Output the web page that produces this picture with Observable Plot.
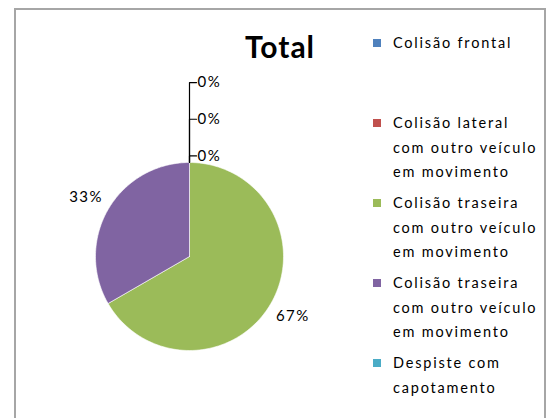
<!DOCTYPE html>
<html>
<head>
<meta charset="utf-8">
<script src="https://cdn.jsdelivr.net/npm/d3@7"></script>
<script src="https://cdn.jsdelivr.net/npm/@observablehq/plot@0.6"></script>
<style>
  html, body { margin: 0; padding: 0; background: #fff; overflow: hidden; }
  #wrap { position: relative; width: 548px; height: 418px; overflow: hidden; font-family: Lato, "Open Sans", sans-serif; color: #000; }
  #frame { position: absolute; left: 14px; top: 8px; width: 528px; height: 440px; border: 2px solid #a6a6a6; }
  #chart { position: absolute; left: 0; top: 0; }
  #title { position: absolute; left: 200px; width: 160px; top: 28px; text-align: center; font-size: 30px; font-weight: 700; letter-spacing: 1px; }
  .item { position: absolute; left: 373px; width: 175px; }
  .sw { position: absolute; left: 0; top: 8px; width: 8px; height: 8px; }
  .lab { position: absolute; left: 20px; width: 148px; font-size: 14.5px; line-height: 24.5px; letter-spacing: 1.8px; }
</style>
</head>
<body>
<div id="wrap">
  <div id="frame"></div>
  <div id="chart"></div>
  <div id="title"></div>
  <div id="legend"></div>
</div>
<script>
const title = "Total";
const categories = [
  "Colisão frontal",
  "Colisão lateral com outro veículo em movimento",
  "Colisão traseira com outro veículo em movimento",
  "Colisão traseira com outro veículo em movimento",
  "Despiste com capotamento"
];
const values = [0, 0, 2, 1, 0];
const colors = ["#4F81BD", "#C0504D", "#9BBB59", "#8064A2", "#4BACC6"];

const rows = categories.map((c, i) => ({id: i, name: c, value: values[i]}));
const total = d3.sum(values);
const arcs = d3.pie().sort(null).value(d => d.value)(rows);

// slice polygons (y up, angle clockwise from 12 o'clock)
const polys = [];
arcs.forEach(a => {
  if (a.data.value <= 0) return;
  const N = 120;
  polys.push({id: a.data.id, x: 0, y: 0});
  for (let k = 0; k <= N; k++) {
    const t = a.startAngle + (a.endAngle - a.startAngle) * k / N;
    polys.push({id: a.data.id, x: Math.sin(t), y: Math.cos(t)});
  }
  polys.push({id: a.data.id, x: 0, y: 0});
});

// labels
const labels = [];
const leaders = [];
let zi = 0;
arcs.forEach(a => {
  const pct = Math.round(a.data.value / total * 100) + "%";
  if (a.data.value > 0) {
    const m = (a.startAngle + a.endAngle) / 2;
    labels.push({x: 1.27 * Math.sin(m), y: 1.27 * Math.cos(m), text: pct, anchor: "middle"});
  } else {
    const yk = 1.07 + zi * 0.39;
    labels.push({x: 0.085, y: yk, text: pct, anchor: "start"});
    leaders.push({id: zi, x: Math.sin(a.startAngle), y: Math.cos(a.startAngle)});
    leaders.push({id: zi, x: 0, y: yk});
    leaders.push({id: zi, x: 0.075, y: yk});
    zi++;
  }
});

const chart = Plot.plot({
  width: 548,
  height: 418,
  marginLeft: 95,
  marginRight: 265,
  marginTop: 162,
  marginBottom: 68,
  x: {domain: [-1, 1], axis: null},
  y: {domain: [-1, 1], axis: null},
  color: {domain: d3.range(categories.length), range: colors},
  style: {fontFamily: "Lato, 'Open Sans', sans-serif", fontSize: "15px", letterSpacing: "1.5px", background: "transparent", overflow: "visible"},
  marks: [
    Plot.line(polys, {x: "x", y: "y", z: "id", fill: "id", stroke: "white", strokeWidth: 0.6, curve: "linear"}),
    Plot.line(leaders, {x: "x", y: "y", z: "id", stroke: "#000", strokeWidth: 1.2, curve: "linear"}),
    Plot.text(labels.filter(d => d.anchor === "middle"), {x: "x", y: "y", text: "text", fill: "#000", textAnchor: "middle"}),
    Plot.text(labels.filter(d => d.anchor === "start"), {x: "x", y: "y", text: "text", fill: "#000", textAnchor: "start"})
  ]
});
document.getElementById("chart").appendChild(chart);
document.getElementById("title").textContent = title;

const legend = document.getElementById("legend");
categories.forEach((c, i) => {
  const it = document.createElement("div");
  it.className = "item";
  it.style.top = (31 + i * 80) + "px";
  const sw = document.createElement("div");
  sw.className = "sw";
  sw.style.background = colors[i];
  const lab = document.createElement("div");
  lab.className = "lab";
  lab.textContent = c;
  it.appendChild(sw);
  it.appendChild(lab);
  legend.appendChild(it);
});
</script>
</body>
</html>
